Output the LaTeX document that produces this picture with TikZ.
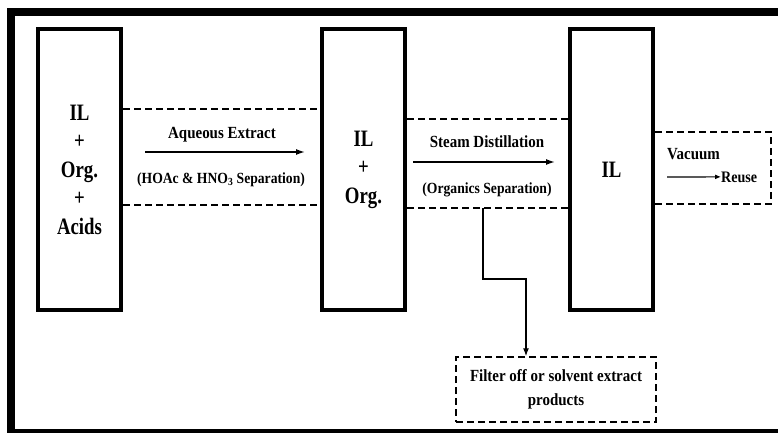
\documentclass[tikz,border=0pt]{standalone}
\usepackage{fontspec}
\setmainfont{Liberation Serif}
\newfontfamily\boxfont{Liberation Serif}[FakeStretch=0.8]
\newfontfamily\labfont{Liberation Serif}[FakeStretch=0.88]
\usetikzlibrary{positioning,calc,arrows.meta}

\tikzset{
  bigbox/.style={draw=black, line width=4.5pt, minimum width=83pt, minimum height=281pt,
    inner sep=0pt, align=center, font=\boxfont\bfseries\fontsize{23.5}{28.5}\selectfont},
  band/.style={black, line width=1.5pt, dash pattern=on 7pt off 4pt},
  flow/.style={black, line width=1.5pt, -{Latex[length=9pt,width=6pt]}},
  lab/.style={inner sep=0pt, font=\labfont\bfseries\fontsize{17}{20}\selectfont},
  sublab/.style={inner sep=0pt, font=\labfont\bfseries\fontsize{15.5}{18}\selectfont},
  dashbox/.style={draw=black, line width=1.5pt, dash pattern=on 7pt off 4pt,
    minimum width=200pt, minimum height=65pt, align=center, inner sep=0pt,
    font=\labfont\bfseries\fontsize{17}{24}\selectfont}
}

\begin{document}
\begin{tikzpicture}[
				x=1pt,y=-1pt,
				line join=miter
				]
				\useasboundingbox (0,0) rectangle (778,433);
				
				% ---- frame (open on the right)
				\draw[black, line width=8pt] (778,12) -- (11,12) -- (11,432.5) -- (778,432.5);
				
				% ---- tanks
				\node[bigbox] (mix)   at (79.5,169.5)  {IL\\+\\Org.\\+\\Acids};
				\node[bigbox] (ilorg) at (363.5,169.5) {IL\\+\\Org.};
				\node[bigbox] (il)    at (611.5,169.5) {IL};
				
				% ---- dashed bands
				\draw[band] (mix.east |- 0,109) -- (ilorg.west |- 0,109);
				\draw[band] (mix.east |- 0,205) -- (ilorg.west |- 0,205);
				\draw[band] (ilorg.east |- 0,119) -- (il.west |- 0,119);
				\draw[band] (ilorg.east |- 0,208) -- (il.west |- 0,208);
				\draw[band] (il.east |- 0,132) -- (771,132) -- (771,204) -- (il.east |- 0,204);
				
				% ---- step 1
				\node[lab, anchor=base] (aqx) at (222,139) {Aqueous Extract};
				\node[sublab, anchor=base] (hoac) at (221,183) {(HOAc \& HNO\textsubscript{3} Separation)};
				\coordinate (s1a) at (145,152);
				\coordinate (s1b) at (305,152);
				\draw[flow] (s1a) -- (s1b);
				
				% ---- step 2
				\node[lab, anchor=base] (steam) at (487,147) {Steam Distillation};
				\node[sublab, anchor=base] (orgsep) at (487,193) {(Organics Separation)};
				\coordinate (s2a) at (413,162);
				\coordinate (s2b) at (555,162);
				\draw[flow] (s2a) -- (s2b);
				
				% ---- step 3
				\node[lab, anchor=base west] (vac) at (667,159) {Vacuum};
				\node[lab, anchor=base west, font=\labfont\bfseries\fontsize{16}{18}\selectfont] (reuse) at (721,182) {Reuse};
				\coordinate (s3a) at (667,177);
				\draw[black, line width=1.2pt, -{Latex[length=6pt,width=5pt]}] (s3a) -- (reuse.west);
				
				% ---- side stream
				\node[dashbox] (filter) at (556,389.5) {Filter off or solvent extract\\products};
				\coordinate (tap) at (483,208);
				\coordinate (drop) at (526,279);
				\draw[black, line width=1.2pt, -{Latex[length=8pt,width=6pt]}]
				(tap) |- (drop) -- (drop |- filter.north);
			\end{tikzpicture}
\end{document}
